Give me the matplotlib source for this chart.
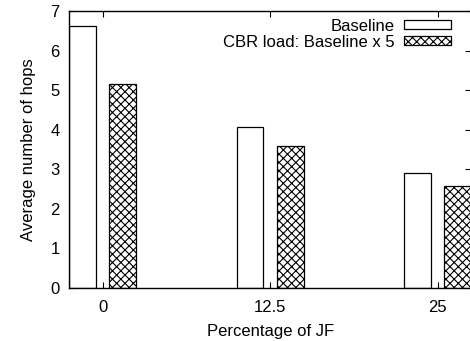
import numpy as np
import matplotlib
matplotlib.use("Agg")
import matplotlib.pyplot as plt

plt.rcParams["font.family"] = ["Liberation Sans", "DejaVu Sans"]
plt.rcParams["hatch.linewidth"] = 0.8

# data
categorias = ["0", "12.5", "25"]
baseline = [6.61, 4.06, 2.90]
cbr_x5 = [5.15, 3.58, 2.58]

x = np.arange(len(categorias))
ancho = 0.16
FS = 12

fig = plt.figure(figsize=(4.70, 3.41), dpi=100)
ax = fig.add_axes([69.3 / 470, 53 / 341, (471 - 69.3) / 470, (288 - 11) / 341])
ax.set_axisbelow(True)

ax.bar(x - 0.12, baseline, ancho, color="white", edgecolor="black", linewidth=0.9,
       label="Baseline", zorder=2)
ax.bar(x + 0.12, cbr_x5, ancho, color="white", edgecolor="black", linewidth=0.9,
       hatch="xxxx", label="CBR load: Baseline x 5", zorder=2)

ax.set_xlim(-0.2, 2.2)
ax.set_ylim(0, 7)
ax.set_xticks(x)
ax.set_xticklabels(categorias)
ax.set_yticks(range(8))
ax.tick_params(direction="in", length=4, width=0.8, top=True, right=True,
               labelsize=FS, pad=7)
ax.tick_params(axis="x", pad=9)
for s in ax.spines.values():
    s.set_linewidth(1.0)

ax.set_xlabel("Percentage of JF", fontsize=FS, labelpad=6)
ax.set_ylabel("Average number of hops", fontsize=FS, labelpad=10)

ax.legend(loc="upper right", bbox_to_anchor=(0.950, 0.972), frameon=False,
          markerfirst=False, fontsize=FS, handlelength=2.8, handleheight=0.48,
          handletextpad=0.6, labelspacing=0.05, borderaxespad=0, borderpad=0)

fig.savefig("out.png", dpi=100)
